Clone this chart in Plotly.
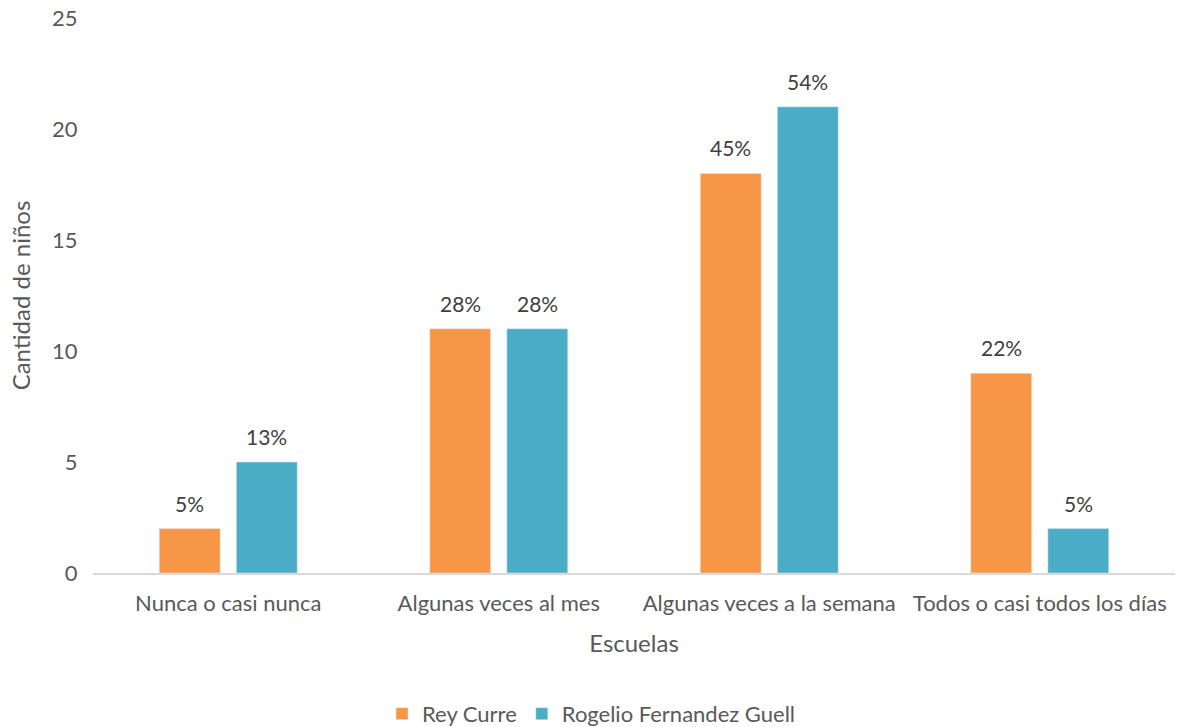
import plotly.graph_objects as go

categories = ["Nunca o casi nunca", "Algunas veces al mes", "Algunas veces a la semana", "Todos o casi todos los días"]
rey_curre = [2, 11, 18, 9]
rey_curre_pct = ["5%", "28%", "45%", "22%"]
rogelio = [5, 11, 21, 2]
rogelio_pct = ["13%", "28%", "54%", "5%"]
y_ticks = [0, 5, 10, 15, 20, 25]

FONT = "Lato"
GREY = "#595959"

fig = go.Figure()
fig.add_trace(go.Bar(name="Rey Curre", x=categories, y=rey_curre, marker_color="#F79646"))
fig.add_trace(go.Bar(name="Rogelio Fernandez Guell", x=categories, y=rogelio, marker_color="#4BACC6"))

for vals, labels, shift in [(rey_curre, rey_curre_pct, -38.5), (rogelio, rogelio_pct, 38.5)]:
    for c, v, t in zip(categories, vals, labels):
        fig.add_annotation(x=c, y=v, text=t, showarrow=False, xshift=shift,
                           yanchor="bottom", yshift=11,
                           font=dict(family=FONT, size=21, color="#404040"))

fig.update_layout(
    width=1183, height=727,
    margin=dict(l=93, r=8, t=18, b=154),
    plot_bgcolor="white", paper_bgcolor="white",
    barmode="group", bargap=0.43, bargroupgap=0.21,
    font=dict(family=FONT, size=22, color=GREY),
    legend=dict(orientation="h", xref="container", yref="container",
                x=0.5, xanchor="center", y=0.018, yanchor="middle",
                font=dict(size=22, color=GREY), itemwidth=30, traceorder="normal"),
    xaxis=dict(title=dict(text="Escuelas", font=dict(size=24, color=GREY), standoff=20),
               automargin=False,
               showline=True, linecolor="#D9D9D9", linewidth=1.5, ticks="outside",
               ticklen=10, tickcolor="white",
               tickfont=dict(size=22, color=GREY), showgrid=False),
    yaxis=dict(title=dict(text="Cantidad de niños", font=dict(size=24, color=GREY), standoff=14),
               automargin=False,
               range=[0, 25], tickvals=y_ticks, showgrid=False, zeroline=False,
               tickfont=dict(size=22, color=GREY), ticks="outside", ticklen=10, tickcolor="white"),
)

fig.write_html("out.html")
